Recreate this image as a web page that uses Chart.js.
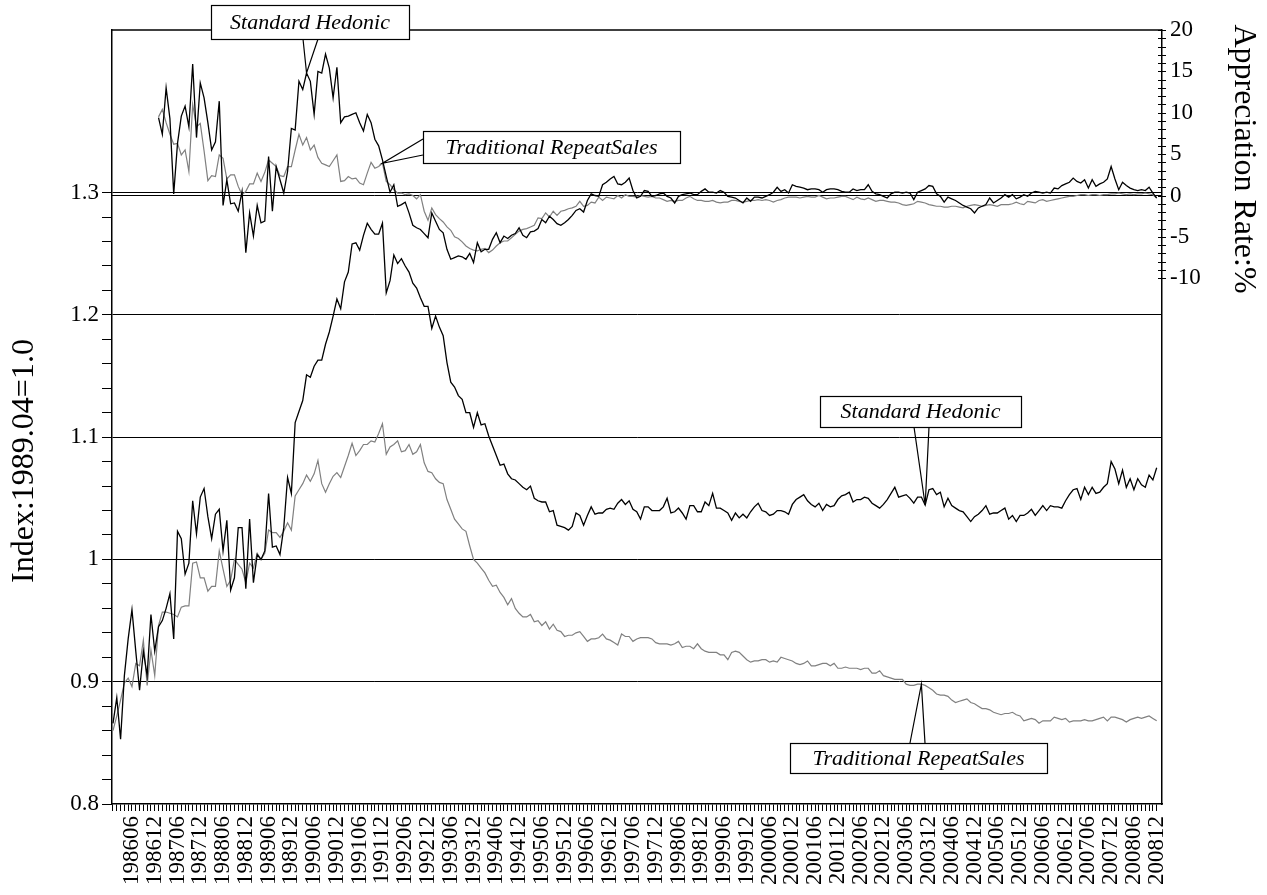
<!DOCTYPE html>
<html><head><meta charset="utf-8">
<script src="https://cdn.jsdelivr.net/npm/chart.js@4.4.1/dist/chart.umd.min.js"></script>
<style>html,body{margin:0;padding:0;background:#fff;}#wrap{width:1267px;height:895px;}</style>
</head><body><div id="wrap"><canvas id="c" width="1267" height="895"></canvas></div>
<script>
// ---------- categories ----------
const years=[1986,1987,1988,1989,1990,1991,1992,1993,1994,1995,1996,1997,1998,1999,2000,2001,2002,2003,2004,2005,2006,2007,2008];
const monthNums=['01','02','03','04','05','06','07','08','09','10','11','12'];
const months=years.flatMap(y=>monthNums.map(m=>String(y)+m));
const tickLabels=['198606','198612','198706','198712','198806','198812','198906','198912','199006','199012','199106','199112','199206','199212','199306','199312','199406','199412','199506','199512','199606','199612','199706','199712','199806','199812','199906','199912','200006','200012','200106','200112','200206','200212','200306','200312','200406','200412','200506','200512','200606','200612','200706','200712','200806','200812'];
const leftTickLabels=['0.8','0.9','1','1.1','1.2','1.3'];
const rightTickLabels=['-10','-5','0','5','10','15','20'];
const rateStart='198701';

// ---------- series: index (left axis), 198601-200812 ----------
const hedonicIndex=[
0.866,0.887,0.853,0.905,0.935,0.959,0.925,0.893,0.925,0.905,0.955,0.925,
0.945,0.950,0.960,0.972,0.935,1.023,1.017,0.988,0.997,1.048,1.021,1.051,
1.058,1.035,1.017,1.037,1.041,1.007,1.032,0.975,0.985,1.026,1.026,0.976,
1.033,0.981,1.004,1.000,1.007,1.054,1.010,1.011,1.004,1.026,1.067,1.054,
1.112,1.121,1.130,1.151,1.149,1.158,1.163,1.163,1.176,1.186,1.199,1.213,
1.205,1.227,1.235,1.258,1.259,1.253,1.265,1.275,1.270,1.266,1.266,1.275,
1.218,1.228,1.249,1.242,1.246,1.240,1.235,1.226,1.222,1.214,1.207,1.207,
1.189,1.199,1.190,1.183,1.161,1.145,1.141,1.134,1.131,1.120,1.120,1.108,
1.120,1.110,1.111,1.101,1.093,1.085,1.077,1.078,1.070,1.066,1.065,1.062,
1.059,1.057,1.060,1.050,1.048,1.047,1.047,1.039,1.040,1.028,1.027,1.026,
1.024,1.027,1.038,1.036,1.028,1.036,1.043,1.037,1.038,1.038,1.041,1.042,
1.041,1.046,1.049,1.045,1.048,1.041,1.039,1.033,1.043,1.043,1.040,1.040,
1.040,1.043,1.050,1.038,1.039,1.042,1.038,1.033,1.044,1.044,1.039,1.039,
1.047,1.044,1.054,1.042,1.042,1.040,1.038,1.032,1.038,1.034,1.037,1.034,
1.039,1.043,1.046,1.040,1.039,1.036,1.037,1.040,1.040,1.039,1.037,1.045,
1.049,1.051,1.053,1.048,1.045,1.043,1.046,1.040,1.045,1.043,1.044,1.049,
1.052,1.053,1.055,1.047,1.049,1.049,1.051,1.050,1.046,1.044,1.042,1.045,
1.049,1.054,1.059,1.051,1.052,1.053,1.050,1.046,1.051,1.051,1.0445,1.057,
1.058,1.053,1.055,1.043,1.050,1.044,1.042,1.040,1.039,1.035,1.031,1.035,
1.037,1.040,1.044,1.037,1.038,1.038,1.040,1.042,1.033,1.036,1.031,1.036,
1.036,1.038,1.041,1.036,1.040,1.044,1.040,1.044,1.043,1.043,1.042,1.048,
1.053,1.057,1.058,1.049,1.059,1.053,1.059,1.054,1.055,1.059,1.062,1.080,
1.074,1.062,1.073,1.059,1.066,1.057,1.066,1.061,1.059,1.069,1.065,1.075];
const repeatSalesIndex=[
0.860,0.872,0.885,0.899,0.903,0.896,0.915,0.913,0.934,0.897,0.926,0.905,
0.946,0.957,0.957,0.956,0.955,0.953,0.961,0.962,0.962,0.997,0.998,0.985,
0.985,0.974,0.978,0.978,1.007,0.992,0.978,0.983,1.000,0.996,0.992,0.981,
0.997,0.993,1.005,1.000,1.005,1.024,1.022,1.022,1.018,1.023,1.030,1.024,
1.052,1.057,1.062,1.069,1.064,1.070,1.081,1.062,1.055,1.062,1.068,1.071,
1.067,1.076,1.085,1.095,1.085,1.089,1.094,1.094,1.097,1.096,1.103,1.111,
1.086,1.092,1.094,1.097,1.088,1.089,1.094,1.086,1.088,1.094,1.079,1.072,
1.071,1.066,1.063,1.062,1.049,1.041,1.033,1.029,1.025,1.023,1.011,1.000,
0.997,0.993,0.989,0.983,0.978,0.979,0.973,0.969,0.963,0.968,0.960,0.956,
0.953,0.953,0.955,0.949,0.950,0.946,0.949,0.943,0.947,0.942,0.941,0.937,
0.938,0.938,0.940,0.941,0.937,0.933,0.935,0.935,0.936,0.939,0.935,0.934,
0.932,0.930,0.939,0.937,0.937,0.933,0.935,0.936,0.936,0.936,0.935,0.932,
0.931,0.931,0.931,0.930,0.931,0.933,0.928,0.929,0.929,0.927,0.931,0.927,
0.925,0.924,0.924,0.924,0.922,0.922,0.918,0.924,0.925,0.924,0.921,0.918,
0.916,0.917,0.917,0.918,0.918,0.916,0.917,0.916,0.920,0.919,0.918,0.917,
0.915,0.914,0.915,0.917,0.913,0.913,0.914,0.915,0.915,0.913,0.915,0.911,
0.911,0.912,0.911,0.911,0.911,0.910,0.911,0.911,0.907,0.907,0.909,0.905,
0.904,0.903,0.902,0.902,0.902,0.898,0.897,0.897,0.898,0.898,0.897,0.895,
0.893,0.890,0.889,0.889,0.888,0.885,0.883,0.884,0.885,0.886,0.883,0.882,
0.880,0.878,0.878,0.877,0.875,0.874,0.873,0.874,0.874,0.875,0.873,0.872,
0.868,0.869,0.870,0.869,0.866,0.868,0.868,0.868,0.871,0.870,0.869,0.870,
0.867,0.868,0.868,0.868,0.869,0.868,0.868,0.869,0.870,0.871,0.868,0.871,
0.871,0.870,0.869,0.867,0.869,0.870,0.871,0.870,0.871,0.872,0.870,0.868];

// ---------- series: appreciation rate % (right axis), 198701-200812 ----------
const hedonicRate=[
9.4,7.4,13.0,9.3,0.2,6.3,9.6,10.8,8.3,15.9,7.0,13.6,
11.8,8.8,5.5,6.5,11.4,-1.2,1.9,-1.0,-0.9,-1.9,0.5,-6.9,
-2.1,-4.9,-1.2,-3.3,-3.1,4.7,-1.9,3.5,1.9,0.3,2.9,8.1,
7.9,13.8,12.8,14.8,13.8,9.8,15.0,14.8,17.1,15.4,11.8,15.5,
8.8,9.5,9.6,9.8,10.0,8.8,7.8,9.8,8.8,6.8,6.0,4.3,
2.3,0.4,1.3,-1.3,-1.1,-0.8,-2.1,-3.6,-3.9,-4.1,-4.6,-5.1,
-2.1,-3.1,-4.1,-4.5,-6.5,-7.7,-7.5,-7.3,-7.4,-7.7,-7.0,-8.1,
-5.7,-6.8,-6.5,-6.5,-5.3,-4.5,-5.7,-4.9,-5.2,-4.8,-4.6,-3.9,
-4.8,-5.1,-4.4,-4.3,-4.0,-2.9,-3.3,-2.5,-2.9,-3.4,-3.6,-3.3,
-2.9,-2.4,-1.8,-1.6,-2.0,-0.6,0.2,0.0,-0.1,1.3,1.6,2.0,
2.3,1.4,1.3,1.6,2.1,0.6,-0.3,-0.1,0.6,0.5,-0.1,0.0,
0.2,0.3,-0.1,-0.3,-0.9,-0.1,0.1,0.2,0.3,0.1,0.1,0.5,
0.8,0.4,0.4,0.3,0.6,0.4,-0.1,-0.2,-0.3,-0.6,-0.9,-0.3,
-0.7,-0.2,-0.2,-0.3,-0.1,0.1,0.4,1.0,0.5,0.7,0.3,1.3,
1.1,1.0,0.9,0.7,0.8,0.8,0.7,0.4,0.7,0.8,0.8,0.7,
0.5,0.4,0.4,0.8,0.6,0.7,0.7,1.3,0.5,0.2,0.1,-0.1,
-0.3,0.2,0.4,0.4,0.3,0.4,0.3,-0.5,0.4,0.6,0.8,1.2,
1.1,0.2,-0.1,-0.8,-0.2,-0.4,-0.6,-0.9,-1.2,-1.4,-1.6,-2.1,
-1.5,-1.3,-1.1,-0.3,-0.9,-0.6,-0.3,0.1,-0.2,0.1,-0.4,-0.2,
0.1,-0.1,0.3,0.5,0.4,0.3,0.4,0.3,0.9,0.8,1.2,1.4,
1.6,2.1,1.7,1.5,1.9,0.9,1.9,1.1,1.4,1.6,2.0,3.5,
2.0,0.7,1.6,1.2,0.9,0.7,0.6,0.7,0.6,1.0,0.3,-0.3];
const repeatSalesRate=[
9.5,10.4,8.8,7.4,6.2,6.3,4.9,5.5,2.9,11.0,8.3,8.7,
5.4,1.8,2.4,2.3,4.9,4.5,2.0,2.5,2.5,1.1,0.1,0.5,
1.4,1.4,2.7,1.7,2.8,4.3,3.9,3.5,2.4,2.3,3.5,3.5,
5.5,7.4,6.1,7.0,5.5,6.1,4.6,3.9,3.7,3.5,4.2,4.9,
1.7,1.8,2.3,2.0,2.1,1.5,1.3,2.7,4.0,3.3,3.5,3.9,
1.7,1.3,0.7,0.3,0.3,0.1,0.2,0.0,-0.4,0.1,-1.9,-3.0,
-1.5,-2.3,-2.8,-3.2,-3.8,-4.2,-5.0,-5.2,-5.6,-6.1,-6.4,-6.6,
-6.7,-6.5,-6.4,-6.9,-6.6,-6.1,-5.7,-5.5,-5.5,-5.1,-4.7,-4.3,
-4.1,-4.0,-3.8,-3.6,-2.7,-2.8,-2.1,-2.6,-1.9,-2.4,-1.9,-1.8,
-1.6,-1.5,-1.3,-0.7,-1.3,-1.2,-0.8,-0.9,-0.2,-0.6,-0.2,-0.3,
-0.4,0.0,-0.3,0.1,-0.1,-0.1,-0.2,0.0,-0.1,-0.2,-0.1,-0.3,
-0.3,-0.5,-0.7,-0.6,-0.7,-0.6,-0.6,-0.3,-0.1,-0.4,-0.6,-0.6,
-0.7,-0.7,-0.6,-0.8,-0.9,-0.8,-0.8,-0.6,-0.6,-0.7,-0.8,-0.7,
-0.6,-0.6,-0.5,-0.6,-0.5,-0.6,-0.8,-0.6,-0.5,-0.3,-0.2,-0.2,
-0.2,-0.3,-0.2,-0.1,-0.2,-0.2,0.0,-0.2,-0.4,-0.3,-0.3,-0.2,
-0.1,-0.1,-0.3,-0.5,-0.2,-0.4,-0.5,-0.3,-0.5,-0.7,-0.6,-0.6,
-0.7,-0.8,-0.8,-0.9,-1.1,-1.2,-1.1,-1.0,-0.7,-0.8,-0.9,-1.1,
-1.2,-1.3,-1.3,-1.4,-1.4,-1.3,-1.3,-1.4,-1.5,-1.3,-1.2,-1.1,
-1.2,-1.3,-1.2,-1.1,-1.2,-1.3,-1.1,-1.1,-1.1,-1.0,-0.8,-1.0,
-1.1,-0.7,-0.8,-0.9,-0.6,-0.5,-0.7,-0.6,-0.5,-0.4,-0.3,-0.2,
-0.1,-0.1,0.0,0.1,0.1,0.0,0.1,0.1,0.0,0.1,0.1,0.2,
0.2,0.3,0.2,0.1,0.2,0.1,0.2,0.2,0.3,0.2,0.1,-0.3];

// ---------- build ----------
const FONT="'Liberation Serif','Times New Roman',serif";
const r0=months.indexOf(rateStart);
const pts=(arr,off)=>arr.map((v,i)=>({x:i+off,y:v}));
const tickSet=new Set(tickLabels);
const leftMajor=leftTickLabels.map(Number);
const rightMajor=rightTickLabels.map(Number);

const callouts=[
  {text:'Standard Hedonic',series:hedonicRate,off:r0,month:'199004',axis:'y2',box:[211,5,409,39],side:'bottom',base:[303,318]},
  {text:'Traditional RepeatSales',series:repeatSalesRate,off:r0,month:'199112',axis:'y2',box:[423,131,680,163],side:'left',base:[139,155]},
  {text:'Standard Hedonic',series:hedonicIndex,off:0,month:'200311',axis:'y',box:[820,396,1021,427],side:'bottom',base:[914,929]},
  {text:'Traditional RepeatSales',series:repeatSalesIndex,off:0,month:'200310',axis:'y',box:[790,743,1047,773],side:'top',base:[910,925]}
];

const decor={
  id:'decor',
  afterDraw(chart){
    const {ctx,chartArea:a,scales}=chart;
    ctx.save();
    // top frame
    ctx.strokeStyle='#000';ctx.lineWidth=1.5;
    ctx.beginPath();ctx.moveTo(a.left,a.top);ctx.lineTo(a.right,a.top);ctx.stroke();
    // right-axis crossing ticks
    ctx.lineWidth=1;
    for(let v=-10;v<=20;v++){
      const y=Math.round(scales.y2.getPixelForValue(v))+0.5;
      ctx.beginPath();ctx.moveTo(a.right-4,y);ctx.lineTo(a.right+4,y);ctx.stroke();
    }
    // callouts
    ctx.font="italic 22px "+FONT;ctx.textAlign='center';ctx.textBaseline='middle';
    callouts.forEach(c=>{
      const idx=months.indexOf(c.month);
      const tx=scales.x.getPixelForValue(idx);
      const ty=scales[c.axis].getPixelForValue(c.series[idx-c.off]);
      const [x1,y1,x2,y2]=c.box;
      ctx.lineWidth=1.2;ctx.strokeStyle='#000';
      ctx.beginPath();
      if(c.side==='bottom'){ctx.moveTo(c.base[0],y2);ctx.lineTo(tx,ty);ctx.lineTo(c.base[1],y2);}
      else if(c.side==='top'){ctx.moveTo(c.base[0],y1);ctx.lineTo(tx,ty);ctx.lineTo(c.base[1],y1);}
      else {ctx.moveTo(x1,c.base[0]);ctx.lineTo(tx,ty);ctx.lineTo(x1,c.base[1]);}
      ctx.stroke();
      ctx.fillStyle='#fff';ctx.fillRect(x1,y1,x2-x1,y2-y1);
      ctx.strokeRect(x1+0.5,y1+0.5,x2-x1,y2-y1);
      ctx.fillStyle='#000';ctx.fillText(c.text,(x1+x2)/2,(y1+y2)/2+1);
    });
    // axis titles
    ctx.font="32px "+FONT;ctx.fillStyle='#000';
    ctx.save();ctx.translate(25,461);ctx.rotate(-Math.PI/2);ctx.fillText('Index:1989.04=1.0',0,0);ctx.restore();
    ctx.save();ctx.translate(1243,159);ctx.rotate(Math.PI/2);ctx.fillText('Appreciation Rate:%',0,0);ctx.restore();
    ctx.restore();
  }
};

new Chart(document.getElementById('c'),{
  type:'line',
  data:{datasets:[
    {label:'Standard Hedonic rate',data:pts(hedonicRate,r0),yAxisID:'y2',borderColor:'#000',borderWidth:1.3},
    {label:'Standard Hedonic index',data:pts(hedonicIndex,0),yAxisID:'y',borderColor:'#000',borderWidth:1.3},
    {label:'Traditional RepeatSales rate',data:pts(repeatSalesRate,r0),yAxisID:'y2',borderColor:'#808080',borderWidth:1.2},
    {label:'Traditional RepeatSales index',data:pts(repeatSalesIndex,0),yAxisID:'y',borderColor:'#808080',borderWidth:1.2}
  ]},
  options:{
    responsive:false,animation:false,devicePixelRatio:1,
    elements:{point:{radius:0},line:{tension:0,fill:false}},
    layout:{padding:{top:30,left:0,right:0,bottom:0}},
    plugins:{legend:{display:false},tooltip:{enabled:false}},
    scales:{
      x:{type:'linear',min:-0.26,max:276.4,
        afterBuildTicks:s=>{s.ticks=months.map((m,i)=>({value:i}));},
        afterFit:s=>{s.height=91;},
        ticks:{autoSkip:false,minRotation:90,maxRotation:90,padding:5,color:'#000',font:{family:FONT,size:23},
          callback:v=>{const m=months[Math.round(v)];return tickSet.has(m)?m:'';}},
        grid:{drawOnChartArea:false,drawTicks:true,tickLength:7,color:'#000',lineWidth:1},
        border:{display:true,color:'#000',width:1.5}},
      y:{position:'left',min:0.8,max:1.433,
        afterBuildTicks:s=>{const t=[];for(let k=0;k<=25;k++)t.push({value:Math.round((0.8+k*0.02)*100)/100});s.ticks=t;},
        afterFit:s=>{s.width=112;},
        ticks:{autoSkip:false,padding:3,color:'#000',font:{family:FONT,size:23},
          callback:v=>{const i=leftMajor.findIndex(m=>Math.abs(m-v)<1e-6);return i>=0?leftTickLabels[i]:'';}},
        grid:{drawTicks:true,tickLength:10,tickColor:'#000',lineWidth:1,
          color:c=>{const v=c.tick&&c.tick.value;return (v>0.85&&leftMajor.some(m=>Math.abs(m-v)<1e-6))?'#000':'rgba(0,0,0,0)';}},
        border:{display:true,color:'#000',width:1.5}},
      y2:{position:'right',min:-73.53,max:20,
        afterBuildTicks:s=>{const t=[];for(let v=-10;v<=20;v++)t.push({value:v});s.ticks=t;},
        afterFit:s=>{s.width=105;},
        ticks:{autoSkip:false,padding:8,color:'#000',font:{family:FONT,size:23},
          callback:v=>{const i=rightMajor.indexOf(v);return i>=0?rightTickLabels[i]:'';}},
        grid:{drawTicks:false,lineWidth:1,color:c=>(c.tick&&c.tick.value===0)?'#000':'rgba(0,0,0,0)'},
        border:{display:true,color:'#000',width:1.5}}
    }
  },
  plugins:[decor]
});
</script></body></html>
